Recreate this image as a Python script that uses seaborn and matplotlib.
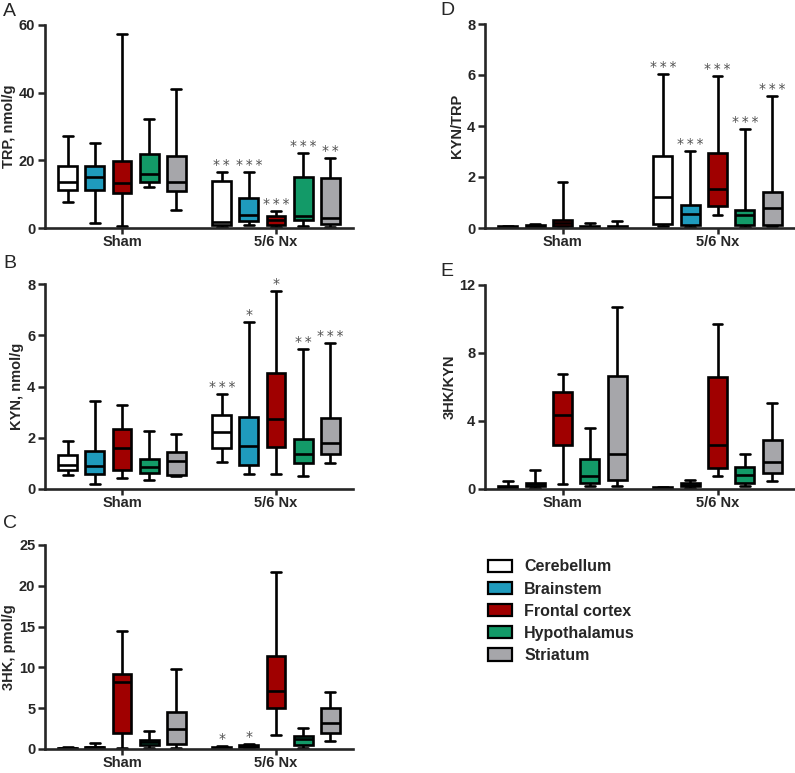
import matplotlib
matplotlib.use("Agg")
import matplotlib.pyplot as plt
from matplotlib.patches import Patch
import seaborn as sns
import pandas as pd

sns.set_style("ticks")
plt.rcParams["font.family"] = ["Liberation Sans", "DejaVu Sans"]

groups = ["Sham", "5/6 Nx"]
regions = ["Cerebellum", "Brainstem", "Frontal cortex", "Hypothalamus", "Striatum"]
colors = ["#ffffff", "#1f9bbd", "#a00000", "#139a68", "#a6a6aa"]

# each box: [min, q1, median, q3, max]
trp_sham = [[7.6, 11.3, 13.5, 18.2, 27.3], [1.5, 11.3, 15.2, 18.2, 25.1],
            [0.7, 10.3, 13.3, 19.7, 57.3], [12.1, 13.5, 15.9, 22.0, 32.3],
            [5.4, 10.8, 13.7, 21.4, 41.0]]
trp_nx = [[0.3, 0.8, 1.9, 13.8, 16.5], [1.0, 2.0, 3.9, 8.9, 16.5],
          [0.2, 0.8, 2.3, 3.4, 5.1], [0.7, 2.3, 3.4, 15.2, 22.1],
          [0.4, 1.3, 2.9, 14.8, 20.6]]
trp_stars = ["**", "***", "***", "***", "**"]

kyn_sham = [[0.55, 0.75, 0.94, 1.33, 1.87], [0.21, 0.57, 0.91, 1.50, 3.42],
            [0.42, 0.74, 1.59, 2.34, 3.29], [0.36, 0.62, 0.85, 1.16, 2.26],
            [0.49, 0.53, 1.11, 1.46, 2.16]]
kyn_nx = [[1.05, 1.59, 2.22, 2.89, 3.69], [0.59, 0.95, 1.69, 2.81, 6.50],
          [0.59, 1.64, 2.74, 4.54, 7.74], [0.52, 1.01, 1.38, 1.96, 5.45],
          [1.0, 1.37, 1.79, 2.78, 5.68]]
kyn_stars = ["***", "*", "*", "**", "***"]

hk_sham = [[0.0, 0.05, 0.1, 0.15, 0.2], [0.0, 0.1, 0.2, 0.3, 0.7],
           [0.15, 1.95, 8.2, 9.2, 14.4], [0.15, 0.49, 0.81, 1.14, 2.15],
           [0.15, 0.61, 2.44, 4.55, 9.76]]
hk_nx = [[0.05, 0.1, 0.15, 0.25, 0.35], [0.1, 0.2, 0.35, 0.45, 0.6],
         [1.75, 5.08, 7.07, 11.4, 21.7], [0.16, 0.49, 1.26, 1.59, 2.52],
         [1.0, 2.0, 3.2, 5.0, 7.0]]
hk_stars = ["*", "*", "", "", ""]

kt_sham = [[0.02, 0.03, 0.05, 0.06, 0.08], [0.02, 0.03, 0.06, 0.1, 0.15],
           [0.03, 0.07, 0.2, 0.31, 1.79], [0.01, 0.02, 0.04, 0.07, 0.2],
           [0.01, 0.02, 0.05, 0.09, 0.26]]
kt_nx = [[0.07, 0.17, 1.20, 2.83, 6.04], [0.05, 0.10, 0.55, 0.90, 3.02],
         [0.50, 0.86, 1.53, 2.96, 5.97], [0.05, 0.10, 0.51, 0.72, 3.89],
         [0.07, 0.13, 0.77, 1.40, 5.18]]
kt_stars = ["***", "***", "***", "***", "***"]

hkk_sham = [[0.02, 0.05, 0.1, 0.16, 0.47], [0.05, 0.16, 0.27, 0.35, 1.1],
            [0.31, 2.59, 4.36, 5.72, 6.76], [0.16, 0.37, 0.79, 1.79, 3.61],
            [0.16, 0.53, 2.08, 6.66, 10.69]]
hkk_nx = [[0.02, 0.04, 0.06, 0.09, 0.12], [0.08, 0.16, 0.26, 0.35, 0.51],
          [0.79, 1.26, 2.59, 6.56, 9.69], [0.16, 0.35, 0.83, 1.28, 2.06],
          [0.47, 0.94, 1.59, 2.87, 5.05]]
hkk_stars = ["", "", "", "", ""]

panels = [
    ("A", "TRP, nmol/g", trp_sham, trp_nx, trp_stars, [0, 20, 40, 60]),
    ("B", "KYN, nmol/g", kyn_sham, kyn_nx, kyn_stars, [0, 2, 4, 6, 8]),
    ("C", "3HK, pmol/g", hk_sham, hk_nx, hk_stars, [0, 5, 10, 15, 20, 25]),
    ("D", "KYN/TRP", kt_sham, kt_nx, kt_stars, [0, 2, 4, 6, 8]),
    ("E", "3HK/KYN", hkk_sham, hkk_nx, hkk_stars, [0, 4, 8, 12]),
]

W, H = 795, 773
# pixel boxes: left, right, top, bottom
boxes = {"A": (45, 353, 25, 228), "B": (45, 353, 284, 489), "C": (45, 353, 545, 749),
         "D": (485, 795, 24, 228), "E": (485, 795, 285, 489)}
letters = {"A": (3, 3), "B": (3, 255), "C": (3, 515), "D": (440, 2), "E": (440, 263)}

fig = plt.figure(figsize=(W / 100, H / 100), dpi=100)

box_width = 0.88
for letter, ylabel, sham, nx, stars, yticks in panels:
    l, r, t, b = boxes[letter]
    ax = fig.add_axes([l / W, (H - b) / H, (r - l) / W, (b - t) / H])
    rows = []
    for g, vals in zip(groups, [sham, nx]):
        for reg, v in zip(regions, vals):
            for x in v:
                rows.append({"group": g, "region": reg, "value": x})
    df = pd.DataFrame(rows)
    sns.boxplot(data=df, x="group", y="value", hue="region", order=groups,
                hue_order=regions, palette=colors, whis=(0, 100), width=box_width,
                gap=0.3, linewidth=1.9, linecolor="black", showfliers=False,
                saturation=1, legend=False, ax=ax)
    ax.set_xlim(-0.5, 1.5)
    ax.set_ylim(0, yticks[-1])
    ax.set_yticks(yticks)
    ax.set_xlabel("")
    ax.set_ylabel(ylabel, fontsize=10.5, fontweight="bold", labelpad=2)
    for lab in ax.get_xticklabels() + ax.get_yticklabels():
        lab.set_fontweight("bold")
    ax.tick_params(axis="y", labelsize=10.5, width=1.8, length=5, direction="out", pad=2)
    ax.tick_params(axis="x", labelsize=10.5, width=1.8, length=4, direction="out", pad=1)
    sns.despine(ax=ax)
    for s in ["left", "bottom"]:
        ax.spines[s].set_linewidth(1.9)
    slot = box_width / len(regions)
    for i, (st, v) in enumerate(zip(stars, nx)):
        if st:
            ax.annotate("\u2009".join(st), xy=(1 + (i - 2) * slot, v[-1]), xytext=(0, 0),
                        textcoords="offset points", ha="center", va="bottom",
                        fontsize=10, family="DejaVu Sans", color="#505050")
    lx, ly = letters[letter]
    fig.text(lx / W, 1 - ly / H, letter, ha="left", va="top", fontsize=14)

handles = [Patch(facecolor=c, edgecolor="black", linewidth=1.6, label=r)
           for c, r in zip(colors, regions)]
fig.legend(handles=handles, loc="upper left", bbox_to_anchor=(474 / W, 1 - 545 / H),
           frameon=False, prop={"weight": "bold", "size": 11.5}, handlelength=1.5,
           handleheight=0.8, labelspacing=0.45, handletextpad=0.75)

fig.savefig("out.png", dpi=100)
